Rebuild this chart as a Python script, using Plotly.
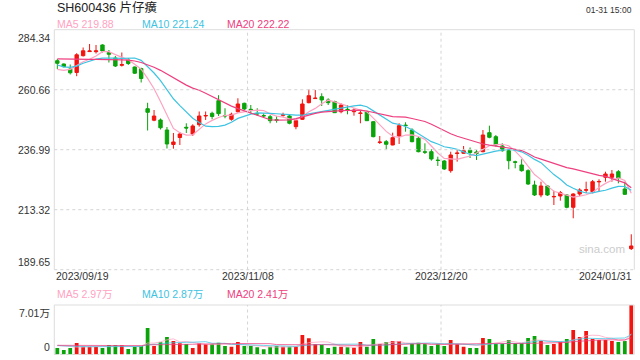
import plotly.graph_objects as go

# ---------------- data ----------------
title_text = "SH600436 片仔癀"
time_text = "01-31 15:00"

open_ = [272.11, 270.81, 268.83, 267.46, 274.08, 275.70, 275.66, 278.31, 275.35, 273.17,
         270.29, 272.39, 269.62, 269.03, 253.17, 248.64, 248.72, 244.77, 239.05, 241.81,
         245.84, 243.19, 246.86, 250.29, 251.36, 256.33, 250.49, 248.99, 251.99, 255.30,
         252.94, 251.28, 250.49, 250.02, 248.80, 250.57, 250.30, 246.08, 248.99, 255.54,
         257.16, 257.91, 256.61, 256.01, 251.99, 252.94, 251.99, 251.28, 251.99, 248.04,
         239.84, 240.16, 238.86, 242.40, 246.70, 244.77, 241.50, 236.17, 236.21, 232.90,
         232.54, 228.71, 235.50, 235.58, 236.76, 236.09, 236.21, 243.71, 242.13, 238.46,
         236.61, 232.23, 230.96, 228.71, 223.07, 219.13, 222.68, 218.38, 218.73, 219.13,
         214.27, 219.52, 221.02, 220.43, 224.30, 226.11, 226.11, 228.32, 221.50, 197.95]
high = [272.78, 271.00, 270.61, 275.07, 277.32, 278.70, 278.31, 278.58, 276.33, 273.97,
        275.35, 273.17, 269.82, 269.35, 255.50, 252.66, 249.31, 245.96, 243.59, 243.98,
        247.42, 247.02, 252.07, 252.07, 251.99, 258.50, 253.34, 251.60, 257.28, 255.55,
        254.64, 253.34, 251.36, 250.69, 250.30, 251.60, 250.69, 248.72, 256.88, 260.83,
        260.55, 259.25, 257.28, 256.33, 255.30, 254.63, 253.33, 252.38, 252.38, 248.32,
        242.40, 240.83, 243.71, 247.42, 247.81, 245.44, 242.13, 239.52, 237.16, 234.24,
        232.94, 236.21, 236.88, 238.46, 237.87, 236.88, 244.77, 246.47, 242.80, 239.52,
        236.88, 232.66, 233.21, 229.27, 224.77, 224.37, 223.07, 220.82, 220.71, 219.52,
        219.80, 221.77, 224.37, 225.05, 225.32, 228.32, 228.99, 228.99, 224.37, 203.63]
low = [268.83, 269.50, 266.67, 265.99, 273.77, 275.54, 274.95, 275.35, 271.40, 269.62,
       269.82, 270.41, 266.86, 263.51, 244.57, 248.24, 244.97, 237.47, 237.39, 238.86,
       243.59, 242.40, 246.07, 248.72, 248.99, 250.30, 249.39, 248.44, 251.60, 252.66,
       251.36, 250.30, 249.63, 247.42, 247.65, 250.02, 247.02, 245.05, 248.72, 255.30,
       257.00, 254.24, 254.63, 251.48, 251.36, 250.96, 250.41, 247.42, 248.32, 241.89,
       239.25, 237.16, 238.74, 239.25, 244.10, 239.92, 235.97, 235.30, 232.66, 230.57,
       228.99, 227.93, 232.27, 235.30, 233.72, 232.94, 235.97, 241.50, 238.18, 236.21,
       229.27, 229.66, 228.32, 223.07, 218.73, 218.22, 218.73, 215.18, 216.88, 213.88,
       209.94, 218.73, 219.92, 219.80, 220.43, 224.37, 224.37, 223.74, 219.13, 197.43]
close = [271.08, 269.74, 267.34, 274.44, 276.02, 275.94, 275.98, 275.94, 274.63, 270.02,
         270.57, 271.01, 267.18, 265.09, 251.75, 250.29, 245.64, 239.25, 240.04, 243.19,
         245.56, 246.35, 250.29, 250.49, 250.10, 251.21, 250.34, 250.97, 255.03, 253.06,
         252.66, 251.13, 250.34, 248.44, 248.64, 250.81, 247.42, 248.44, 255.03, 258.30,
         257.32, 256.61, 255.54, 251.60, 254.63, 252.74, 252.66, 251.44, 248.44, 242.13,
         240.00, 239.13, 241.73, 246.47, 246.55, 240.16, 236.21, 236.01, 233.33, 232.74,
         229.39, 234.91, 235.66, 236.61, 235.90, 235.50, 242.80, 241.89, 238.86, 236.61,
         232.66, 232.03, 228.71, 223.47, 219.13, 222.68, 219.13, 218.54, 220.04, 214.27,
         219.52, 221.10, 221.18, 224.37, 224.46, 227.41, 227.41, 225.72, 219.40, 199.01]
# volume in 万
volume = [0.92, 0.64, 0.92, 1.63, 1.10, 1.10, 1.10, 0.92, 1.35, 1.35,
          1.35, 0.78, 1.10, 1.20, 3.75, 1.20, 1.73, 2.48, 1.91, 1.59,
          1.49, 0.92, 1.59, 1.49, 1.49, 1.67, 1.20, 1.10, 1.77, 1.20,
          1.20, 1.02, 0.74, 1.10, 1.20, 1.10, 1.10, 1.10, 2.76, 2.29,
          1.49, 1.35, 0.92, 1.10, 1.10, 1.02, 0.96, 1.77, 1.10, 2.19,
          1.49, 1.77, 1.91, 1.91, 1.10, 1.49, 1.67, 1.49, 1.20, 1.49,
          1.20, 2.05, 1.49, 1.10, 0.92, 0.92, 2.34, 2.19, 1.49, 1.49,
          2.05, 1.63, 1.63, 2.34, 2.62, 1.91, 1.35, 1.49, 1.77, 2.19,
          3.47, 2.48, 3.33, 2.19, 2.05, 2.05, 1.91, 1.77, 1.91, 7.01]

# moving-average values before each window is full
ma5_head = [268.7, 268.3, 268.7, 270.2]
ma10_head = [270.4, 269.7, 269.5, 270.0, 271.1, 272.0, 272.7, 273.1, 273.2]
ma20_head = [272.8, 272.7, 272.6, 272.6, 272.6, 272.6, 272.6, 272.6, 272.6, 272.5,
             272.4, 272.3, 272.0, 271.4, 270.5, 269.5, 268.3, 266.8, 265.3]
vma5_head = [1.30, 1.20, 1.10, 1.05]
vma10_head = [1.25, 1.20, 1.15, 1.15, 1.10, 1.10, 1.10, 1.10, 1.10]
vma20_head = [1.30, 1.29, 1.28, 1.28, 1.28, 1.27, 1.27, 1.27, 1.27, 1.27,
              1.27, 1.26, 1.26, 1.26, 1.36, 1.36, 1.38, 1.42, 1.43]

price_ticks = [284.34, 260.66, 236.99, 213.32, 189.65]
vol_ticks = [7.01, 0]
vol_tick_text = ["7.01万", "0"]
date_labels = ["2023/09/19", "2023/11/08", "2023/12/20", "2024/01/31"]
date_index = [0, 30, 60, 89]
ma_names = ["MA5", "MA10", "MA20"]
ma_windows = [5, 10, 20]
price_ma_last = ["219.88", "221.24", "222.22"]
vol_ma_last = ["2.97万", "2.87万", "2.41万"]

# ---------------- style ----------------
W, H = 640, 360
UP, DOWN = "#f2140f", "#0aa30a"
MA_COLORS = ["#ffa2c2", "#3ec3e2", "#ee4080"]
GRID = "#d4d4d4"
BORDER = "#dddddd"
TXT = "#333333"
FONT = "Liberation Sans, Arial, Noto Sans CJK SC, sans-serif"


def px_x(px):
    return px / W


def px_y(py):
    return 1 - py / H


def moving_average(values, window, head):
    out = list(head)
    for i in range(len(head), len(values)):
        out.append(sum(values[i - window + 1:i + 1]) / window)
    return out


n = len(close)
idx = list(range(n))
ma_price = [moving_average(close, w, h) for w, h in zip(ma_windows, [ma5_head, ma10_head, ma20_head])]
ma_vol = [moving_average(volume, w, h) for w, h in zip(ma_windows, [vma5_head, vma10_head, vma20_head])]

fig = go.Figure()
fig.add_trace(go.Candlestick(
    x=idx, open=open_, high=high, low=low, close=close,
    increasing=dict(line=dict(color=UP, width=1), fillcolor=UP),
    decreasing=dict(line=dict(color=DOWN, width=1), fillcolor=DOWN),
    whiskerwidth=0, xaxis="x", yaxis="y", showlegend=False, hoverinfo="skip"))
for vals, col in zip(ma_price, MA_COLORS):
    fig.add_trace(go.Scatter(x=idx, y=vals, mode="lines", line=dict(color=col, width=1.2),
                             xaxis="x", yaxis="y", showlegend=False, hoverinfo="skip"))

bar_colors = [UP if c >= o else DOWN for o, c in zip(open_, close)]
fig.add_trace(go.Bar(x=idx, y=volume, marker=dict(color=bar_colors, line=dict(width=0)),
                     width=0.58, xaxis="x2", yaxis="y2", showlegend=False, hoverinfo="skip"))
for vals, col in zip(ma_vol, MA_COLORS):
    fig.add_trace(go.Scatter(x=idx, y=vals, mode="lines", line=dict(color=col, width=1),
                             opacity=0.75, xaxis="x2", yaxis="y2", showlegend=False,
                             hoverinfo="skip"))

x_dom = [px_x(54.3), px_x(634.3)]
x_rng = [-0.47, n - 1 + 0.47]
ax_common = dict(showgrid=False, zeroline=False, showticklabels=False, ticks="",
                 showline=False, fixedrange=True)
fig.update_layout(
    width=W, height=H, margin=dict(l=0, r=0, t=0, b=0),
    paper_bgcolor="white", plot_bgcolor="white", boxgap=0.25,
    font=dict(family=FONT, size=10.5, color=TXT),
    xaxis=dict(domain=x_dom, range=x_rng, anchor="y", rangeslider=dict(visible=False), **ax_common),
    yaxis=dict(domain=[px_y(269.7), px_y(29.7)], range=[price_ticks[-1], price_ticks[0]],
               anchor="x", **ax_common),
    xaxis2=dict(domain=x_dom, range=x_rng, anchor="y2", **ax_common),
    yaxis2=dict(domain=[px_y(354.5), px_y(305)], range=[vol_ticks[-1], vol_ticks[0]],
                anchor="x2", **ax_common),
)

shapes = []
dot = dict(color=GRID, width=1, dash="dot")
solid = dict(color=BORDER, width=1)
for xr, yr in (("x", "y"), ("x2", "y2")):
    # box: top, left, right solid
    shapes.append(dict(type="line", xref=xr + " domain", yref=yr + " domain", x0=0, x1=1, y0=1, y1=1, line=solid))
    shapes.append(dict(type="line", xref=xr + " domain", yref=yr + " domain", x0=0, x1=0, y0=0, y1=1, line=solid))
    shapes.append(dict(type="line", xref=xr + " domain", yref=yr + " domain", x0=1, x1=1, y0=0, y1=1, line=solid))
    shapes.append(dict(type="line", xref=xr + " domain", yref=yr + " domain", x0=0, x1=1, y0=0, y1=0, line=dot))
    for di in date_index[1:-1]:
        shapes.append(dict(type="line", xref=xr, yref=yr + " domain", x0=di - 0.5, x1=di - 0.5,
                           y0=0, y1=1, line=dot))
for t in price_ticks[1:-1]:
    shapes.append(dict(type="line", xref="x domain", yref="y", x0=0, x1=1, y0=t, y1=t, line=dot))
fig.update_layout(shapes=shapes)

ann = []
ann.append(dict(text=title_text, x=px_x(55), y=px_y(8), xref="paper", yref="paper",
                xanchor="left", yanchor="middle", showarrow=False,
                font=dict(size=12.5, color="#222222")))
ann.append(dict(text=time_text, x=px_x(634), y=px_y(10), xref="paper", yref="paper",
                xanchor="right", yanchor="middle", showarrow=False,
                font=dict(size=8.5, color=TXT)))
legend_x = [55, 140, 225]
for name, val, vval, col, lx in zip(ma_names, price_ma_last, vol_ma_last, MA_COLORS, legend_x):
    ann.append(dict(text=f"{name} {val}", x=px_x(lx), y=px_y(24), xref="paper", yref="paper",
                    xanchor="left", yanchor="middle", showarrow=False, font=dict(color=col)))
    ann.append(dict(text=f"{name} {vval}", x=px_x(lx), y=px_y(294), xref="paper", yref="paper",
                    xanchor="left", yanchor="middle", showarrow=False, font=dict(color=col)))
for k, t in enumerate(price_ticks):
    ya = "top" if k == 0 else ("bottom" if k == len(price_ticks) - 1 else "middle")
    ann.append(dict(text=f"{t:.2f}", x=px_x(52), y=t, xref="paper", yref="y",
                    xanchor="right", yanchor=ya, showarrow=False))
for k, (t, lab) in enumerate(zip(vol_ticks, vol_tick_text)):
    ya = "top" if k == 0 else "bottom"
    ann.append(dict(text=lab, x=px_x(52), y=t, xref="paper", yref="y2",
                    xanchor="right", yanchor=ya, showarrow=False))
for k, (lab, di) in enumerate(zip(date_labels, date_index)):
    if k == 0:
        a = dict(x=0, xref="x domain", xanchor="left")
    elif k == len(date_labels) - 1:
        a = dict(x=1, xref="x domain", xanchor="right")
    else:
        a = dict(x=di - 0.5, xref="x", xanchor="center")
    ann.append(dict(text=lab, y=px_y(276), yref="paper", yanchor="middle", showarrow=False, **a))
ann.append(dict(text="sina.com", x=px_x(602), y=px_y(249), xref="paper", yref="paper",
                xanchor="center", yanchor="middle", showarrow=False,
                font=dict(size=11.5, color="#cccccc")))
fig.update_layout(annotations=ann)

fig.write_html("out.html", config={"displayModeBar": False, "staticPlot": True},
               post_script="document.body.style.margin='0';")
